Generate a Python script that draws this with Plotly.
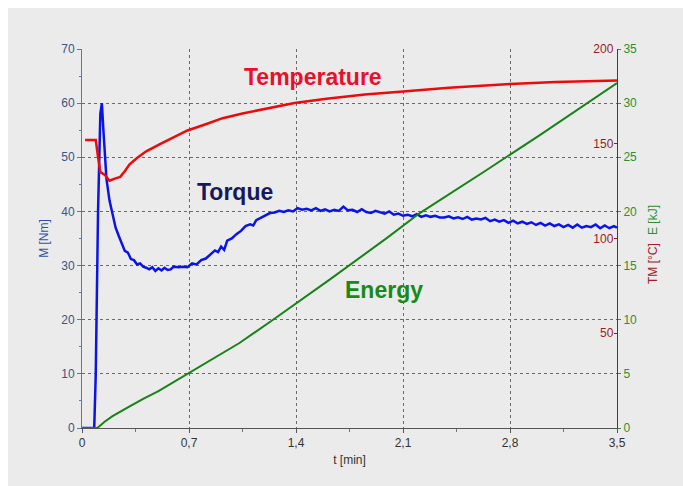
import plotly.graph_objects as go

# ---------------- data ----------------
torque_t = [0.00, 0.08, 0.09, 0.105, 0.12, 0.13, 0.14, 0.15, 0.16, 0.18, 0.20, 0.22, 0.24, 0.26, 0.28,
            0.30, 0.32, 0.34, 0.36, 0.38, 0.40, 0.42, 0.44, 0.46, 0.48, 0.50, 0.52, 0.54, 0.56, 0.58,
            0.60, 0.63, 0.66, 0.69, 0.72, 0.75, 0.78, 0.81, 0.84, 0.87, 0.89, 0.91, 0.93, 0.95, 0.98,
            1.01, 1.04, 1.07, 1.10, 1.12, 1.14, 1.17, 1.20, 1.23, 1.26, 1.29, 1.32, 1.35, 1.38, 1.41,
            1.44, 1.47, 1.50, 1.53, 1.56, 1.59, 1.62, 1.65, 1.68, 1.71, 1.74, 1.77, 1.80, 1.83, 1.86,
            1.89, 1.92, 1.95, 1.98, 2.01, 2.04, 2.07, 2.10, 2.13, 2.16, 2.19, 2.22, 2.25, 2.28, 2.31,
            2.34, 2.37, 2.40, 2.43, 2.46, 2.49, 2.52, 2.55, 2.58, 2.61, 2.64, 2.67, 2.70, 2.73, 2.76,
            2.79, 2.82, 2.85, 2.88, 2.91, 2.94, 2.97, 3.00, 3.03, 3.06, 3.09, 3.12, 3.15, 3.18, 3.21,
            3.24, 3.27, 3.30, 3.33, 3.36, 3.39, 3.42, 3.45, 3.48, 3.50]
torque_m = [0, 0, 10, 40, 58, 60, 55, 50, 46, 42, 39.5, 37, 35.5, 34.2, 32.7,
            32.4, 31.2, 31.0, 30.2, 30.4, 29.8, 29.6, 29.3, 29.7, 29.0, 29.5, 29.1, 29.6, 29.2, 29.3,
            29.8, 29.7, 29.8, 29.7, 30.4, 30.2, 31.0, 31.3, 32.0, 32.8, 32.5, 33.5, 32.9, 34.6, 35.0,
            35.8, 36.4, 37.3, 37.6, 37.4, 38.4, 38.8, 39.3, 39.7, 39.8, 40.1, 39.9, 40.2, 40.0, 40.6,
            40.3, 40.5, 40.2, 40.6, 40.1, 40.4, 40.0, 40.3, 40.1, 40.9, 40.2, 40.3, 39.9, 40.4, 39.9,
            39.7, 40.1, 39.8, 39.6, 40.0, 39.4, 39.6, 39.2, 39.4, 39.1, 39.5, 39.0, 39.3, 39.0, 39.2,
            38.9, 38.9, 39.1, 38.7, 38.9, 38.6, 39.0, 38.5, 38.7, 38.5, 38.8, 38.2, 38.5, 38.1, 38.4,
            37.9, 38.3, 37.8, 38.1, 37.7, 38.0, 37.5, 37.9, 37.4, 37.8, 37.3, 37.6, 37.1, 37.5, 37.0,
            37.6, 37.0, 37.3, 37.1, 37.6, 36.9, 37.4, 36.9, 37.3, 37.0]

temp_t = [0.02, 0.09, 0.105, 0.12, 0.15, 0.18, 0.21, 0.25, 0.28, 0.31, 0.36, 0.42, 0.51, 0.60,
          0.69, 0.80, 0.92, 1.05, 1.20, 1.39, 1.60, 1.85, 2.10, 2.40, 2.80, 3.10, 3.50]
temp_c = [152, 152, 143, 135, 133.5, 130.5, 131.5, 132.5, 135.5, 139, 142.5, 146, 149.8, 153.5,
          157, 160, 163.5, 166, 168.5, 171.5, 173.8, 176, 177.6, 179.5, 181.5, 182.6, 183.4]

energy_t = [0.0, 0.1, 0.15, 0.2, 0.3, 0.4, 0.5, 0.7, 0.9, 1.03, 1.25, 1.62, 2.0, 2.21, 2.65, 3.0, 3.5]
energy_kj = [0, 0, 0.6, 1.1, 1.9, 2.7, 3.4, 5.1, 6.8, 7.85, 10.0, 13.7, 17.6, 19.85, 23.85, 27.1, 31.85]

x_ticks = [0, 0.7, 1.4, 2.1, 2.8, 3.5]
x_ticktext = ["0", "0,7", "1,4", "2,1", "2,8", "3,5"]
m_ticks = [0, 10, 20, 30, 40, 50, 60, 70]
tm_ticks = [50, 100, 150, 200]
e_ticks = [0, 5, 10, 15, 20, 25, 30, 35]

# ---------------- styling ----------------
FONT = "Liberation Sans, Arial, sans-serif"
BLUE = "#0a14e6"
RED = "#ec0b0b"
GREEN = "#178217"
GRID = "#6a6a6a"
PANEL = "#ebebeb"

fig = go.Figure()
fig.add_trace(go.Scatter(x=energy_t, y=energy_kj, mode="lines", yaxis="y3",
                         line=dict(color=GREEN, width=2), name="Energy"))
fig.add_trace(go.Scatter(x=temp_t, y=temp_c, mode="lines", yaxis="y2",
                         line=dict(color=RED, width=2.5), name="Temperature"))
fig.add_trace(go.Scatter(x=torque_t, y=torque_m, mode="lines", yaxis="y",
                         line=dict(color=BLUE, width=2.5), name="Torque"))

W, H = 683, 486
L, T = 82, 49
pw, ph = 535, 379
R, B = W - L - pw, H - T - ph
BORDER = 8


def px(xp):
    return (xp - L) / pw


def py(yp):
    return (T + ph - yp) / ph


# white border on the top and left sides (the panel reaches the right/bottom edges)
fig.add_shape(type="rect", xref="paper", yref="paper", x0=px(-2), x1=px(W + 2),
              y0=py(BORDER), y1=py(-2), fillcolor="white", line=dict(width=0), layer="above")
fig.add_shape(type="rect", xref="paper", yref="paper", x0=px(-2), x1=px(BORDER),
              y0=py(H + 2), y1=py(-2), fillcolor="white", line=dict(width=0), layer="above")

fig.update_layout(
    width=W, height=H,
    margin=dict(l=L, r=R, t=T, b=B, autoexpand=False),
    paper_bgcolor=PANEL,
    plot_bgcolor=PANEL,
    showlegend=False,
    font=dict(family=FONT, size=12, color="#333333"),
    xaxis=dict(
        range=[0, 3.5], tickvals=x_ticks, ticktext=x_ticktext,
        showgrid=True, gridcolor=GRID, griddash="dot", gridwidth=1,
        showline=True, linecolor="#555555", linewidth=1,
        ticks="outside", ticklen=4, tickcolor="#555555",
        minor=dict(dtick=0.35, tick0=0, ticks="outside", ticklen=3, tickcolor="#777777", showgrid=False),
        tickfont=dict(size=12, color="#333333"),
        title=dict(text="t [min]", font=dict(size=12, color="#333333"), standoff=6),
        zeroline=False, automargin=False,
    ),
    yaxis=dict(
        range=[0, 70], tickvals=m_ticks,
        showgrid=True, gridcolor=GRID, griddash="dot", gridwidth=1,
        showline=True, linecolor="#5b78a8", linewidth=1,
        ticks="outside", ticklen=4, tickcolor="#5b78a8",
        minor=dict(dtick=5, ticks="outside", ticklen=2, tickcolor="#5b78a8"),
        tickfont=dict(size=12, color="#3a5585"),
        title=dict(text="M [Nm]", font=dict(size=12, color="#2f53a8"), standoff=10),
        zeroline=False, automargin=False,
    ),
    yaxis2=dict(
        range=[0, 200], tickvals=tm_ticks, overlaying="y", side="right", anchor="x",
        showgrid=False, zeroline=False,
        showline=True, linecolor="#8a1f2a", linewidth=1,
        ticks="inside", ticklen=3, tickcolor="#8a1f2a",
        ticklabelposition="inside", ticklabeloverflow="allow",
        tickfont=dict(size=12, color="#9a1c24"),
    ),
    yaxis3=dict(
        range=[0, 35], tickvals=e_ticks, overlaying="y", side="right", anchor="x",
        showgrid=False, zeroline=False, showline=False,
        ticks="outside", ticklen=3, tickcolor="#3b8a3b",
        tickfont=dict(size=12, color="#2f8f2f"),
    ),
)

ann_font = lambda c: dict(family=FONT, size=23, color=c)
fig.add_annotation(x=1.51, y=64.9, xref="x", yref="y", text="<b>Temperature</b>",
                   showarrow=False, font=ann_font("#e8102a"), xanchor="center", yanchor="middle")
fig.add_annotation(x=1.0, y=43.5, xref="x", yref="y", text="<b>Torque</b>",
                   showarrow=False, font=ann_font("#141a5c"), xanchor="center", yanchor="middle")
fig.add_annotation(x=1.975, y=25.5, xref="x", yref="y", text="<b>Energy</b>",
                   showarrow=False, font=ann_font("#178a17"), xanchor="center", yanchor="middle")

fig.add_annotation(x=px(653), y=py(220), xref="paper", yref="paper", text="E [kJ]",
                   xanchor="center", yanchor="middle",
                   textangle=-90, showarrow=False, font=dict(family=FONT, size=12, color="#2f8f2f"))
fig.add_annotation(x=px(653), y=py(264), xref="paper", yref="paper", text="TM [°C]",
                   xanchor="center", yanchor="middle",
                   textangle=-90, showarrow=False, font=dict(family=FONT, size=12, color="#a0202a"))

fig.write_html("out.html", config={"displayModeBar": False},
               post_script="document.body.style.margin='0px';document.body.style.overflow='hidden';")
